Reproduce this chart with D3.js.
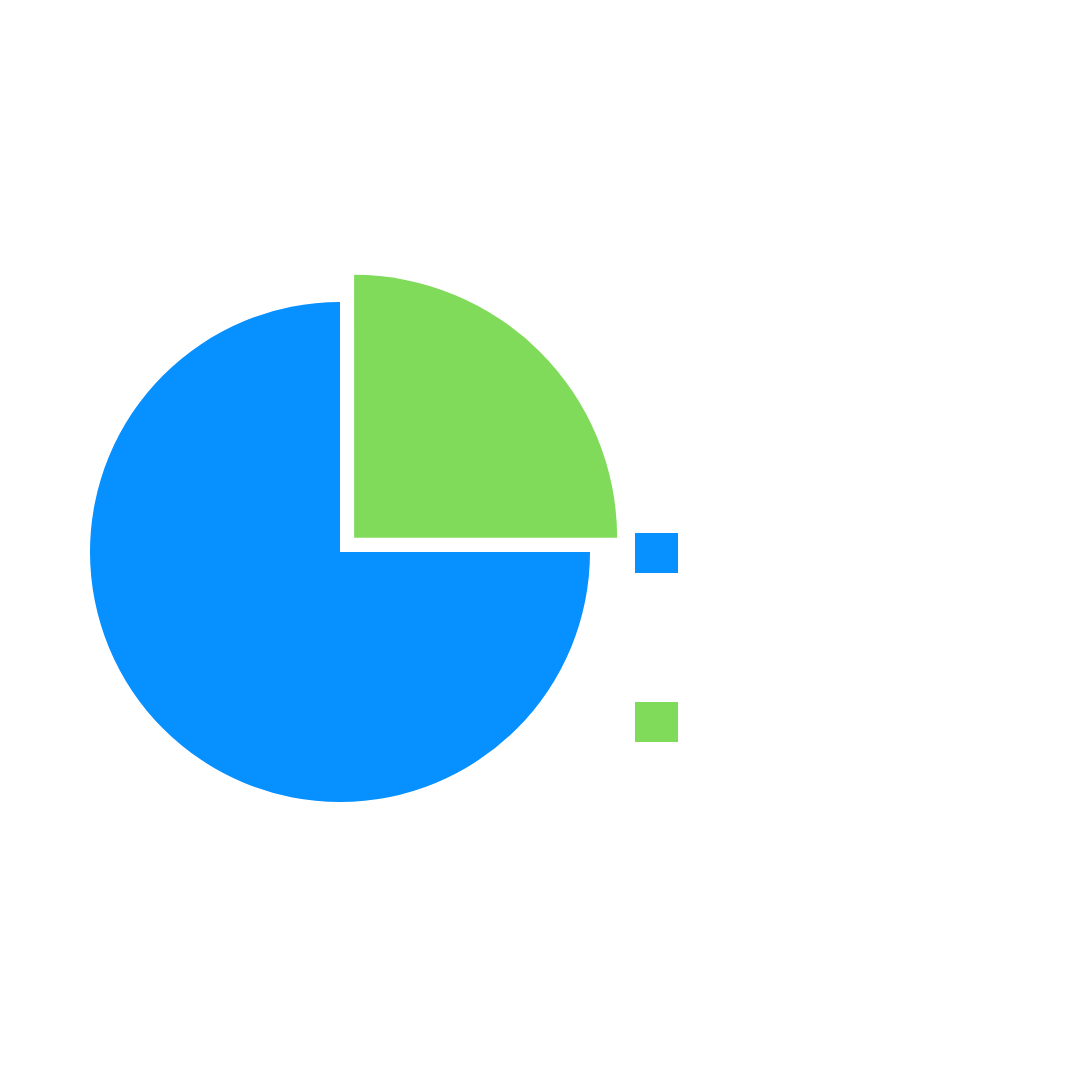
<!DOCTYPE html>
<html lang="en">

<head>
	<meta charset="UTF-8">
	<title>pie chart</title>
	<script src="https://cdn.jsdelivr.net/npm/d3@7/dist/d3.min.js" charset="UTF-8"></script>
	<style>
		body { margin: 0; background: #fff; }
	</style>
</head>

<body>
	<div id="chart"></div>

	<script type="text/javascript">
	// data
	let categories = ['Series 1', 'Series 2'];
	let values = [75, 25];
	let colors = ['#0790ff', '#80db5a'];

	let width = 1080,
		height = 1080;
	let cx = 340,
		cy = 552,
		radius = 250;
	// second slice is pulled out and a bit bigger (highlighted)
	let explode = [0, 20],
		grow = [0, 13];

	let svg = d3.select('#chart')
		.append('svg')
		.attr('width', width)
		.attr('height', height);

	let pie = d3.pie()
		.sort(null)
		.startAngle(Math.PI / 2)
		.endAngle(Math.PI * 2.5);

	let arcs = pie(values);

	let g = svg.append('g')
		.attr('transform', `translate(${cx},${cy})`);

	g.selectAll('path')
		.data(arcs)
		.enter()
		.append('path')
		.attr('fill', (d, i) => colors[i])
		.attr('transform', (d, i) => {
			let mid = (d.startAngle + d.endAngle) / 2;
			return `translate(${Math.sin(mid) * explode[i]},${-Math.cos(mid) * explode[i]})`;
		})
		.attr('d', (d, i) => d3.arc().innerRadius(0).outerRadius(radius + grow[i])(d));

	// legend, swatches only
	let legendY = d3.scalePoint()
		.domain(categories)
		.range([533, 702]);

	svg.selectAll('rect.legend')
		.data(categories)
		.enter()
		.append('rect')
		.attr('class', 'legend')
		.attr('x', 635)
		.attr('y', d => legendY(d))
		.attr('width', 43)
		.attr('height', 40)
		.attr('fill', (d, i) => colors[i]);
	</script>
</body>

</html>
